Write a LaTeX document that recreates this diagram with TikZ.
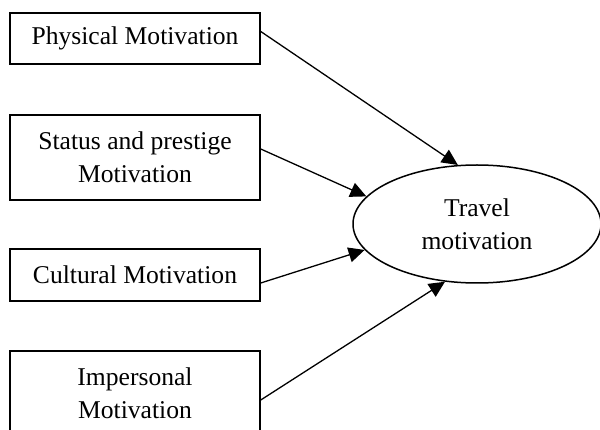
\documentclass[tikz,border=0pt]{standalone}
\usepackage{fontspec}
\setmainfont{Liberation Serif}
\usetikzlibrary{arrows.meta,shapes.geometric}
\begin{document}
\begin{tikzpicture}[x=1pt,y=-1pt,
  box/.style={draw,line width=1.5pt,minimum width=250pt,inner sep=0pt,align=center,
    font=\fontsize{25.6}{33}\selectfont},
  oval/.style={draw,ellipse,line width=1.5pt,minimum width=248pt,minimum height=118pt,inner sep=0pt,align=center,
    font=\fontsize{25.6}{33}\selectfont},
  arr/.style={line width=1.3pt,-{Triangle[length=16pt,width=15pt]}}]
\useasboundingbox (0,0) rectangle (600,430);
\node[box,minimum height=51pt] (b1) at (135,38.5) {Physical Motivation};
\node[box,minimum height=85pt] (b2) at (135,157.5) {Status and prestige\\Motivation};
\node[box,minimum height=52pt] (b3) at (135,275) {Cultural Motivation};
\node[box,minimum height=85pt] (b4) at (135,393.5) {Impersonal\\Motivation};
\node[oval] (t) at (477,224) {Travel\\motivation};
\draw[arr] ([yshift=7pt]b1.east) -- (t.108.7);
\draw[arr] ([yshift=8.5pt]b2.east) -- (t.166.4);
\draw[arr] ([yshift=-8pt]b3.east) -- (t.193.3);
\draw[arr] ([yshift=-6.5pt]b4.east) -- (t.241.5);
\end{tikzpicture}
\end{document}
